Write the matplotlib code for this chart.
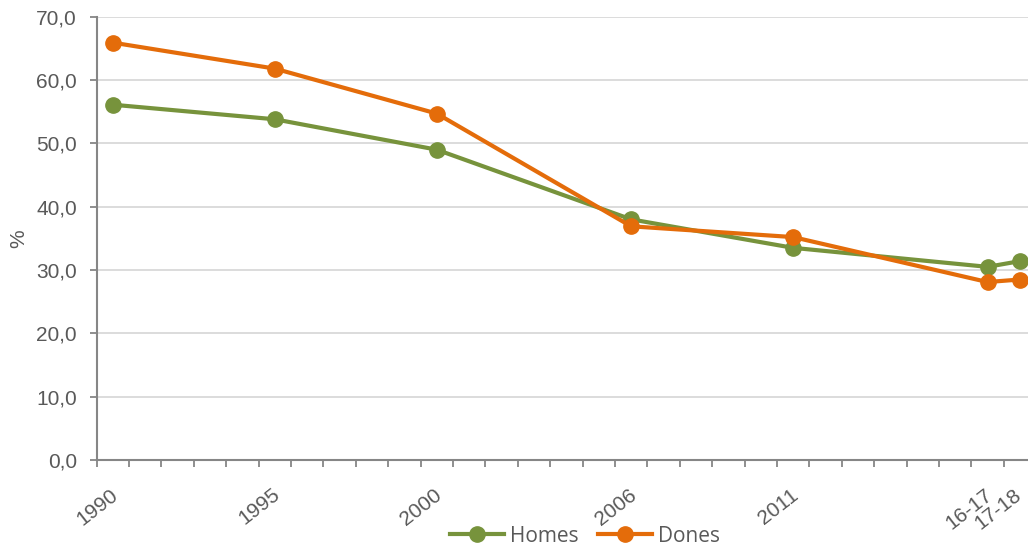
import numpy as np
import matplotlib.pyplot as plt
from matplotlib.ticker import FixedLocator
import matplotlib.transforms as mtransforms

# dades
anys = [1990, 1995, 2000, 2006, 2011, 2017, 2018]
etiquetes = ["1990", "1995", "2000", "2006", "2011", "16-17", "17-18"]
homes = [56.1, 53.8, 49.0, 38.0, 33.5, 30.5, 31.4]
dones = [65.9, 61.8, 54.7, 36.9, 35.2, 28.1, 28.5]

verd = "#77933C"
taronja = "#E46C0A"
gris = "#595959"

plt.rcParams["font.family"] = ["Liberation Sans", "DejaVu Sans"]

fig = plt.figure(figsize=(10.28, 5.5), dpi=100, facecolor="white")
ax = fig.add_axes([0.0939, 0.1636, 0.9061, 0.8061])

ax.plot(anys, homes, color=verd, lw=3, marker="o", ms=11, label="Homes", clip_on=False, zorder=3)
ax.plot(anys, dones, color=taronja, lw=3, marker="o", ms=11, label="Dones", clip_on=False, zorder=4)

ax.set_xlim(1989.5, 2018.25)
ax.set_ylim(0, 70)
ax.set_yticks(np.arange(0, 71, 10))
ax.set_yticklabels([f"{v},0" for v in range(0, 71, 10)], fontsize=15, color=gris)
ax.set_xticks(anys)
ax.set_xticklabels(etiquetes, fontsize=15, color=gris, rotation=38, ha="right", rotation_mode="anchor")
ax.xaxis.set_minor_locator(FixedLocator(np.arange(1989.5, 2018, 1)))
ax.tick_params(axis="x", which="major", length=0, pad=18)
ax.tick_params(axis="x", which="minor", length=5, width=1.3, color="#868686", direction="out")
ax.tick_params(axis="y", length=5, width=1.3, color="#868686", pad=9)

# petit desplaçament de les etiquetes
for i, lab in enumerate(ax.get_xticklabels()):
    dx = -3 if i < len(anys) - 1 else -7
    lab.set_transform(lab.get_transform() + mtransforms.ScaledTranslation(dx / 100, 0, fig.dpi_scale_trans))

ax.grid(axis="y", color="#D9D9D9", lw=1.3)
ax.set_axisbelow(True)
for s in ["top", "right"]:
    ax.spines[s].set_visible(False)
for s in ["left", "bottom"]:
    ax.spines[s].set_color("#868686")
    ax.spines[s].set_linewidth(1.5)
ax.spines["bottom"].set_zorder(5)

ax.set_ylabel("%", fontsize=15, color=gris, labelpad=6)

fig.legend(loc="lower center", bbox_to_anchor=(0.569, -0.028), ncol=2, frameon=False,
           prop={"family": "Open Sans", "size": 15}, labelcolor=gris,
           handlelength=2.6, handletextpad=0.3, columnspacing=0.9)

plt.savefig("out.png", dpi=100, facecolor="white")
